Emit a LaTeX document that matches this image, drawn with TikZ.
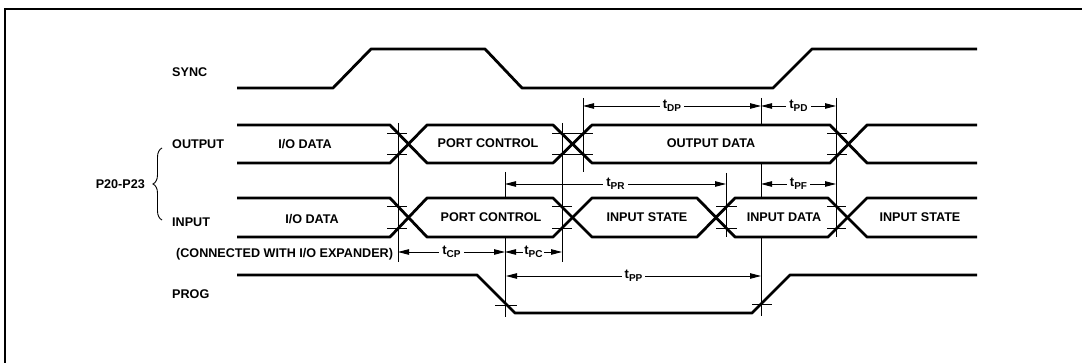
\documentclass[tikz,border=0pt]{standalone}
\usepackage{fontspec}
\setmainfont{Liberation Sans}
\usetikzlibrary{arrows.meta,decorations.pathreplacing}
\newcommand{\tsub}[1]{t\raisebox{-2.5pt}{\fontsize{10}{11}\selectfont #1}}
\begin{document}
\begin{tikzpicture}[x=1pt,y=-1pt,
  bus/.style={line width=2.8pt,line join=round},
  thinline/.style={line width=0.9pt},
  frameline/.style={line width=1.8pt},
  dimline/.style={line width=0.9pt,{Triangle[length=11pt,width=5.5pt]}-{Triangle[length=11pt,width=5.5pt]}},
  txt/.style={font=\fontsize{12.6}{14}\selectfont\bfseries,inner sep=0pt},
  dimlbl/.style={font=\fontsize{13}{14}\selectfont\bfseries,fill=white,inner sep=3pt}]
\useasboundingbox (0,0) rectangle (1082,363);
% frame
\draw[frameline] (5,363) -- (5,9) -- (1082,9);
% labels
\node[txt,anchor=west] (sync) at (172,72) {SYNC};
\node[txt,anchor=west] (outp) at (172,144) {OUTPUT};
\node[txt,anchor=west] (inp) at (172,222) {INPUT};
\node[txt,anchor=west] (prog) at (172,294) {PROG};
\node[txt,anchor=west] (conn) at (176,254) {(CONNECTED WITH I/O EXPANDER)};
\node[txt,anchor=east] (pp) at (145,184) {P20-P23};
\draw[thinline,decorate,decoration={brace,amplitude=9pt}] (162,220) -- (162,148);
% SYNC
\draw[bus] (237,88) -- (333,88) -- (371,49) -- (485,49) -- (522,88) -- (773,88) -- (812,49) -- (977,49);
% OUTPUT bus
\draw[bus] (237,125) -- (390,125) -- (427,163) -- (553,163) -- (592,125) -- (830,125) -- (867,163) -- (977,163);
\draw[bus] (237,163) -- (390,163) -- (427,125) -- (553,125) -- (592,163) -- (830,163) -- (867,125) -- (977,125);
% INPUT bus
\draw[bus] (237,198) -- (390,198) -- (427,237) -- (553,237) -- (592,198) -- (697,198) -- (735,237) -- (828,237) -- (867,198) -- (977,198);
\draw[bus] (237,237) -- (390,237) -- (427,198) -- (553,198) -- (592,237) -- (697,237) -- (735,198) -- (828,198) -- (867,237) -- (977,237);
% PROG
\draw[bus] (237,275) -- (477,275) -- (515,313) -- (752,313) -- (790,275) -- (977,275);
% bus texts
\node[txt] (d1) at (305,144) {I/O DATA};
\node[txt] (d2) at (488,143) {PORT CONTROL};
\node[txt] (d3) at (711,143) {OUTPUT DATA};
\node[txt] (e1) at (312,219) {I/O DATA};
\node[txt] (e2) at (491,217) {PORT CONTROL};
\node[txt] (e3) at (647,217) {INPUT STATE};
\node[txt] (e4) at (784,217) {INPUT DATA};
\node[txt] (e5) at (920,217) {INPUT STATE};
% ticks
\draw[thinline] (387,133) -- (407,133) (387,154) -- (407,154)
  (552,133) -- (593,133) (552,154) -- (593,154)
  (827,133) -- (847,133) (827,154) -- (847,154)
  (387,206) -- (407,206) (387,228) -- (407,228)
  (552,206) -- (572,206) (552,228) -- (572,228)
  (716,206) -- (737,206) (716,228) -- (737,228)
  (827,206) -- (846,206) (827,228) -- (846,228)
  (495,305) -- (517,305) (752,304) -- (772,304);
% vertical reference lines
\draw[thinline] (398,123) -- (398,262)
  (562,123) -- (562,262)
  (583,98) -- (583,172)
  (505,172) -- (505,198) (505,238) -- (505,317)
  (726,173) -- (726,237)
  (761,98) -- (761,125) (761,163) -- (761,197) (761,238) -- (761,316)
  (836,98) -- (836,237);
% dimensions
\draw[dimline] (583,106) -- (761,106) node[dimlbl,midway] {\tsub{DP}};
\draw[dimline] (761,106) -- (836,106) node[dimlbl,midway] {\tsub{PD}};
\draw[dimline] (505,184) -- (726,184) node[dimlbl,midway] {\tsub{PR}};
\draw[dimline] (761,184) -- (836,184) node[dimlbl,midway] {\tsub{PF}};
\draw[dimline] (398,252) -- (505,252) node[dimlbl,midway] {\tsub{CP}};
\draw[dimline] (505,252) -- (562,252) node[dimlbl,midway,inner sep=1.5pt] {\tsub{PC}};
\draw[dimline] (506,276) -- (761,276) node[dimlbl,midway] {\tsub{PP}};
\end{tikzpicture}
\end{document}
